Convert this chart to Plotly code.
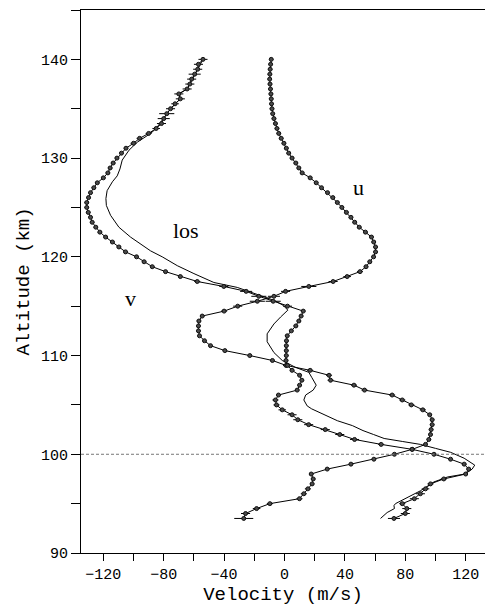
import plotly.graph_objects as go

# Altitude grid of the wind profile (km)
altitude = [140.0, 139.5, 139.0, 138.5, 138.0, 137.5, 137.0, 136.5, 136.0, 135.5,
            135.0, 134.5, 134.0, 133.5, 133.0, 132.5, 132.0, 131.5, 131.0, 130.5,
            130.0, 129.5, 129.0, 128.5, 128.0, 127.5, 127.0, 126.5, 126.0, 125.5,
            125.0, 124.5, 124.0, 123.5, 123.0, 122.5, 122.0, 121.5, 121.0, 120.5,
            120.0, 119.5, 119.0, 118.5, 118.0, 117.5, 117.0, 116.5, 116.0, 115.5,
            115.0, 114.5, 114.0, 113.5, 113.0, 112.5, 112.0, 111.5, 111.0, 110.5,
            110.0, 109.5, 109.0, 108.5, 108.0, 107.5, 107.0, 106.5, 106.0, 105.5,
            105.0, 104.5, 104.0, 103.5, 103.0, 102.5, 102.0, 101.5, 101.0, 100.5,
            100.0, 99.5, 99.0, 98.5, 98.0, 97.5, 97.0, 96.5, 96.0, 95.5,
            95.0, 94.5, 94.0, 93.5]

# Zonal wind u (m/s)
u_wind = [-8.8, -9.2, -9.5, -9.7, -9.8, -9.6, -9.3, -9.0, -8.8, -8.6,
          -8.3, -7.8, -7.0, -6.0, -5.0, -3.8, -2.2, -0.4, 1.2, 2.8,
          5.0, 7.5, 9.5, 11.7, 17.0, 21.0, 24.5, 28.5, 32.0, 35.0,
          38.0, 41.0, 44.0, 46.5, 49.5, 53.6, 57.6, 59.1, 60.3, 60.3,
          59.0, 56.5, 54.0, 50.0, 41.5, 32.2, 16.1, 0.7, -7.0, -18.0,
          -31.0, -40.0, -54.5, -56.7, -57.0, -57.0, -56.3, -53.0, -49.0, -39.5,
          -23.0, -8.0, 1.0, 17.0, 29.5, 30.5, 46.0, 53.0, 71.3, 78.0,
          84.0, 91.6, 96.2, 97.8, 97.8, 97.1, 96.7, 95.6, 93.4, 84.6,
          72.8, 59.2, 44.0, 28.3, 17.7, 19.0, 18.3, 15.5, 12.8, 9.9,
          -9.7, -18.5, -25.8, -27.0]
u_err = [1.5, 1.5, 1.5, 1.5, 1.5, 1.5, 1.5, 1.5, 1.5, 1.5,
         1.5, 1.5, 1.5, 1.5, 1.5, 1.5, 1.5, 1.5, 1.5, 1.5,
         1.5, 1.5, 1.5, 1.5, 1.5, 1.5, 1.5, 1.5, 1.5, 1.5,
         1.5, 1.5, 1.5, 1.5, 1.5, 1.5, 1.5, 1.5, 1.5, 1.5,
         1.5, 1.5, 1.5, 2.0, 2.5, 3.0, 5.0, 3.0, 4.0, 5.0,
         3.0, 2.0, 1.5, 1.5, 1.5, 1.5, 1.5, 1.5, 1.5, 1.5,
         1.5, 1.5, 2.0, 2.0, 2.0, 2.0, 2.0, 2.0, 2.0, 2.0,
         2.0, 2.0, 1.5, 1.5, 1.5, 1.5, 1.5, 1.5, 1.5, 1.5,
         1.5, 1.5, 1.5, 1.5, 1.5, 1.5, 1.5, 2.0, 2.0, 2.0,
         2.0, 2.5, 3.0, 6.3]

# Meridional wind v (m/s)
v_wind = [-54.0, -57.0, -57.5, -59.5, -61.5, -62.7, -64.5, -70.0, -69.0, -72.5,
          -75.5, -78.0, -80.0, -81.5, -85.0, -90.0, -96.0, -100.0, -105.0, -108.0,
          -111.0, -113.5, -115.5, -117.0, -120.0, -124.0, -126.3, -128.5, -129.8, -131.0,
          -131.0, -130.0, -128.5, -127.4, -125.0, -122.3, -118.5, -114.0, -109.7, -105.3,
          -98.0, -93.0, -87.6, -78.8, -69.0, -57.8, -40.2, -25.4, -17.0, -7.5,
          2.0, 12.4, 11.0, 9.5, 7.5, 4.5, 1.8, 1.3, 1.2, 1.2,
          1.2, 1.0, 2.0, 5.0, 10.0, 11.5, 10.0, 8.4, -4.0, -6.0,
          -5.3, -1.5, 5.0, 8.8, 16.0, 27.0, 36.6, 46.4, 64.0, 84.5,
          99.0, 110.0, 119.0, 122.0, 120.0, 105.5, 96.7, 93.4, 90.0, 86.0,
          78.0, 81.0, 80.0, 72.5]
v_err = [3.0, 3.0, 3.0, 4.0, 3.0, 3.0, 3.0, 3.0, 3.0, 2.5,
         3.0, 5.0, 4.0, 3.0, 2.5, 2.0, 2.0, 2.0, 1.5, 1.5,
         1.5, 1.5, 1.5, 1.5, 1.5, 1.5, 1.5, 1.5, 1.5, 1.5,
         1.5, 1.5, 1.5, 1.5, 1.5, 1.5, 1.5, 1.5, 1.5, 1.5,
         1.5, 1.5, 1.5, 1.5, 1.5, 2.0, 3.0, 4.0, 5.0, 5.0,
         3.0, 1.5, 1.5, 1.5, 1.5, 1.5, 1.5, 1.5, 1.5, 1.5,
         1.5, 1.5, 1.5, 1.5, 1.5, 1.5, 1.5, 1.5, 1.5, 2.0,
         2.0, 2.5, 3.0, 3.0, 3.0, 3.0, 3.0, 3.0, 2.0, 1.5,
         1.5, 1.5, 1.5, 1.5, 1.5, 2.0, 2.0, 2.5, 3.0, 3.0,
         2.0, 3.0, 3.0, 4.0]

# Line-of-sight velocity (m/s)
los_alt = [140.0, 139.0, 138.0, 137.0, 136.5, 136.0, 135.0, 134.0, 133.0, 132.5,
           132.0, 131.6, 130.8, 129.8, 128.9, 128.2, 127.6, 126.7, 125.9, 125.2,
           124.2, 123.0, 122.0, 120.6, 120.0, 119.1, 118.3, 117.4, 116.9, 116.2,
           115.6, 115.1, 114.6, 113.9, 113.2, 112.2, 111.4, 110.3, 109.5, 108.8,
           108.3, 107.8, 107.0, 106.5, 106.0, 105.5, 104.9, 104.6, 104.0, 103.4,
           102.9, 102.4, 102.0, 101.6, 101.3, 101.0, 100.6, 100.2, 99.6, 99.1,
           98.9, 98.5, 98.0, 97.7, 97.2, 96.3, 95.7, 95.2, 95.0, 94.8,
           94.5, 94.1, 93.5]
los_vel = [-54.0, -57.5, -61.5, -64.5, -70.0, -69.0, -75.5, -80.0, -85.0, -88.7,
           -94.0, -97.6, -103.0, -107.5, -109.0, -110.8, -114.0, -117.5, -118.3, -118.0,
           -115.2, -109.7, -102.0, -88.7, -81.0, -71.0, -60.0, -46.8, -31.3, -18.1,
           -7.1, -1.0, 2.2, -2.6, -7.0, -11.5, -11.5, -7.0, -1.5, 7.3,
           16.1, 18.0, 21.0, 19.0, 14.0, 12.8, 15.0, 18.0, 27.0, 35.0,
           45.0, 52.0, 59.0, 66.0, 78.0, 90.0, 100.0, 110.0, 119.0, 124.3,
           126.0, 124.3, 119.5, 108.0, 99.0, 90.0, 82.0, 75.7, 73.5, 72.5,
           72.8, 68.0, 63.6]

# Curve labels: (text, velocity, altitude)
curve_labels = [("u", 48.7, 127.0), ("los", -65.2, 122.7), ("v", -101.7, 115.8)]

AXIS_FONT = "Liberation Mono"
LABEL_FONT = "Liberation Serif"

fig = go.Figure()

fig.add_trace(go.Scatter(
    x=los_vel, y=los_alt, mode="lines",
    line=dict(color="black", width=1), name="los"))

for name, vals, errs in [("u", u_wind, u_err), ("v", v_wind, v_err)]:
    fig.add_trace(go.Scatter(
        x=vals, y=altitude, mode="lines+markers", name=name,
        line=dict(color="black", width=1),
        marker=dict(symbol="circle", size=4, color="#4a4a4a",
                    line=dict(color="#111111", width=1)),
        error_x=dict(type="data", array=errs, visible=True,
                     color="black", thickness=1, width=0)))

# Reference altitude
fig.add_shape(type="line", xref="paper", x0=0, x1=1, yref="y", y0=100, y1=100,
              line=dict(color="#777777", width=1, dash="3px,2px"))

for text, xv, yv in curve_labels:
    fig.add_annotation(x=xv, y=yv, text=text, showarrow=False,
                       font=dict(family=LABEL_FONT, size=22, color="black"),
                       xanchor="center", yanchor="middle")

fig.update_xaxes(
    range=[-134.8, 132.8], tick0=0, dtick=40,
    ticks="outside", ticklen=7, tickwidth=1, tickcolor="black",
    minor=dict(tick0=0, dtick=20, ticks="outside", ticklen=7,
               tickwidth=1, tickcolor="black", showgrid=False),
    showline=True, linecolor="black", linewidth=1, mirror=True,
    showgrid=False, zeroline=False,
    tickfont=dict(family=AXIS_FONT, size=15, color="black"),
    title=dict(text="Velocity (m/s)", standoff=3,
               font=dict(family=AXIS_FONT, size=19, color="black")))

fig.update_yaxes(
    range=[90, 145], tick0=0, dtick=10,
    ticks="outside", ticklen=9, tickwidth=1, tickcolor="black",
    minor=dict(tick0=0, dtick=5, ticks="outside", ticklen=9,
               tickwidth=1, tickcolor="black", showgrid=False),
    showline=True, linecolor="black", linewidth=1, mirror=False,
    showgrid=False, zeroline=False,
    tickfont=dict(family=AXIS_FONT, size=15, color="black"),
    title=dict(text="Altitude (km)", standoff=6,
               font=dict(family=AXIS_FONT, size=19, color="black")))

fig.update_layout(
    width=485, height=608,
    margin=dict(l=81, r=0, t=10, b=55, pad=0),
    plot_bgcolor="white", paper_bgcolor="white",
    showlegend=False)

fig.write_html("out.html")
